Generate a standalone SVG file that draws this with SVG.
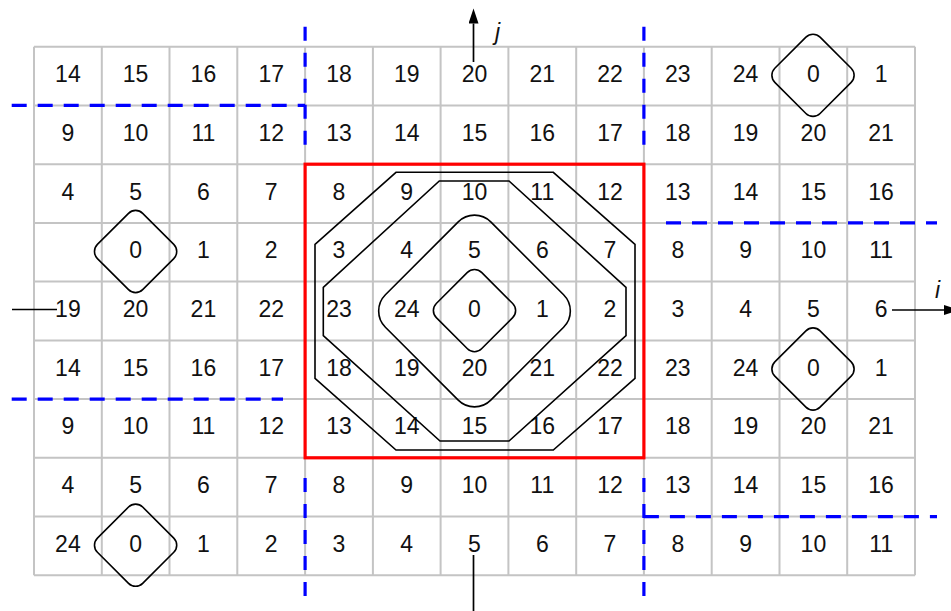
<svg xmlns="http://www.w3.org/2000/svg" width="951" height="611" viewBox="0 0 951 611">
<defs>
<marker id="arr" markerUnits="userSpaceOnUse" markerWidth="16" markerHeight="10" refX="0" refY="5" orient="auto" viewBox="0 0 16 10">
<path d="M0,0 L15,5 L0,10 z" fill="#000"/>
</marker>
<style>
.g{stroke:#c4c4c4;stroke-width:2;fill:none}
.t{font-family:"Liberation Sans",Arial,sans-serif;font-size:23px;fill:#111;text-anchor:middle}
.ax{font-family:"Liberation Sans",Arial,sans-serif;font-size:23px;font-style:italic;fill:#111}
.s{stroke:#000;stroke-width:1.6;fill:none}
.bd{stroke:#0000ff;stroke-width:3.2;fill:none;stroke-dasharray:15 11}
.bv{stroke:#0000ff;stroke-width:3.2;fill:none;stroke-dasharray:14 12}
.a{stroke:#000;stroke-width:1.7;fill:none}
</style>
</defs>
<rect width="951" height="611" fill="#fff"/>
<g id="grid" class="g">
<path d="M34,46.7V575.3M101.8,46.7V575.3M169.5,46.7V575.3M237.3,46.7V575.3M305.1,46.7V575.3M372.9,46.7V575.3M440.6,46.7V575.3M508.4,46.7V575.3M576.2,46.7V575.3M643.9,46.7V575.3M711.7,46.7V575.3M779.5,46.7V575.3M847.2,46.7V575.3M915,46.7V575.3"/>
<path d="M34,46.7H915M34,105.4H915M34,164.2H915M34,222.9H915M34,281.6H915M34,340.4H915M34,399.1H915M34,457.8H915M34,516.6H915M34,575.3H915"/>
</g>
<g id="labels" class="t">
<text x="67.9" y="82">14</text><text x="135.6" y="82">15</text><text x="203.4" y="82">16</text><text x="271.2" y="82">17</text><text x="339" y="82">18</text><text x="406.7" y="82">19</text><text x="474.5" y="82">20</text><text x="542.3" y="82">21</text><text x="610" y="82">22</text><text x="677.8" y="82">23</text><text x="745.6" y="82">24</text><text x="813.4" y="82">0</text><text x="881.1" y="82">1</text>
<text x="67.9" y="140.8">9</text><text x="135.6" y="140.8">10</text><text x="203.4" y="140.8">11</text><text x="271.2" y="140.8">12</text><text x="339" y="140.8">13</text><text x="406.7" y="140.8">14</text><text x="474.5" y="140.8">15</text><text x="542.3" y="140.8">16</text><text x="610" y="140.8">17</text><text x="677.8" y="140.8">18</text><text x="745.6" y="140.8">19</text><text x="813.4" y="140.8">20</text><text x="881.1" y="140.8">21</text>
<text x="67.9" y="199.5">4</text><text x="135.6" y="199.5">5</text><text x="203.4" y="199.5">6</text><text x="271.2" y="199.5">7</text><text x="339" y="199.5">8</text><text x="406.7" y="199.5">9</text><text x="474.5" y="199.5">10</text><text x="542.3" y="199.5">11</text><text x="610" y="199.5">12</text><text x="677.8" y="199.5">13</text><text x="745.6" y="199.5">14</text><text x="813.4" y="199.5">15</text><text x="881.1" y="199.5">16</text>
<text x="135.6" y="258.2">0</text><text x="203.4" y="258.2">1</text><text x="271.2" y="258.2">2</text><text x="339" y="258.2">3</text><text x="406.7" y="258.2">4</text><text x="474.5" y="258.2">5</text><text x="542.3" y="258.2">6</text><text x="610" y="258.2">7</text><text x="677.8" y="258.2">8</text><text x="745.6" y="258.2">9</text><text x="813.4" y="258.2">10</text><text x="881.1" y="258.2">11</text>
<text x="67.9" y="317">19</text><text x="135.6" y="317">20</text><text x="203.4" y="317">21</text><text x="271.2" y="317">22</text><text x="339" y="317">23</text><text x="406.7" y="317">24</text><text x="474.5" y="317">0</text><text x="542.3" y="317">1</text><text x="610" y="317">2</text><text x="677.8" y="317">3</text><text x="745.6" y="317">4</text><text x="813.4" y="317">5</text><text x="881.1" y="317">6</text>
<text x="67.9" y="375.7">14</text><text x="135.6" y="375.7">15</text><text x="203.4" y="375.7">16</text><text x="271.2" y="375.7">17</text><text x="339" y="375.7">18</text><text x="406.7" y="375.7">19</text><text x="474.5" y="375.7">20</text><text x="542.3" y="375.7">21</text><text x="610" y="375.7">22</text><text x="677.8" y="375.7">23</text><text x="745.6" y="375.7">24</text><text x="813.4" y="375.7">0</text><text x="881.1" y="375.7">1</text>
<text x="67.9" y="434.4">9</text><text x="135.6" y="434.4">10</text><text x="203.4" y="434.4">11</text><text x="271.2" y="434.4">12</text><text x="339" y="434.4">13</text><text x="406.7" y="434.4">14</text><text x="474.5" y="434.4">15</text><text x="542.3" y="434.4">16</text><text x="610" y="434.4">17</text><text x="677.8" y="434.4">18</text><text x="745.6" y="434.4">19</text><text x="813.4" y="434.4">20</text><text x="881.1" y="434.4">21</text>
<text x="67.9" y="493.2">4</text><text x="135.6" y="493.2">5</text><text x="203.4" y="493.2">6</text><text x="271.2" y="493.2">7</text><text x="339" y="493.2">8</text><text x="406.7" y="493.2">9</text><text x="474.5" y="493.2">10</text><text x="542.3" y="493.2">11</text><text x="610" y="493.2">12</text><text x="677.8" y="493.2">13</text><text x="745.6" y="493.2">14</text><text x="813.4" y="493.2">15</text><text x="881.1" y="493.2">16</text>
<text x="67.9" y="551.9">24</text><text x="135.6" y="551.9">0</text><text x="203.4" y="551.9">1</text><text x="271.2" y="551.9">2</text><text x="339" y="551.9">3</text><text x="406.7" y="551.9">4</text><text x="474.5" y="551.9">5</text><text x="542.3" y="551.9">6</text><text x="610" y="551.9">7</text><text x="677.8" y="551.9">8</text><text x="745.6" y="551.9">9</text><text x="813.4" y="551.9">10</text><text x="881.1" y="551.9">11</text>
</g>
<g id="octagon-outer"><polygon class="s" points="396,172.3 553.3,172.3 635,244.3 635,378.3 553.3,450 396,450 315,378.3 315,244.3"/></g>
<g id="octagon-inner"><polygon class="s" points="439.3,181 509,181 626,287.3 626,335.7 509,441 440,441 323.3,335.7 323.3,287.3"/></g>
<g id="diamond-large"><rect class="s" x="-74.5" y="-74.5" width="149" height="149" rx="23" transform="translate(474.5,311) rotate(45)"/></g>
<g id="diamond-center"><rect class="s" x="-32" y="-32" width="64" height="64" rx="10" transform="translate(474.5,310.6) rotate(45)"/></g>
<g id="diamond-r0c11"><rect class="s" x="-32" y="-32" width="64" height="64" rx="10" transform="translate(813,75.3) rotate(45)"/></g>
<g id="diamond-r3c1"><rect class="s" x="-32" y="-32" width="64" height="64" rx="10" transform="translate(135.6,251.5) rotate(45)"/></g>
<g id="diamond-r5c11"><rect class="s" x="-32" y="-32" width="64" height="64" rx="10" transform="translate(813,369) rotate(45)"/></g>
<g id="diamond-r8c1"><rect class="s" x="-32" y="-32" width="64" height="64" rx="10" transform="translate(135.6,545.2) rotate(45)"/></g>
<g id="window"><rect x="305.1" y="164.2" width="338.8" height="293.6" fill="none" stroke="#ff0000" stroke-width="3.2"/></g>
<g id="boundaries">
<path class="bv" d="M305.1,26.7V146M643.9,26.7V146M305.1,478V596M643.9,478V596"/>
<path class="bd" d="M11.7,105.4H305.1M11.7,399.1H283M666,222.9H937M643.9,516.6H937"/>
</g>
<g id="connectors">
<path class="a" d="M473.5,62V23.5" marker-end="url(#arr)"/>
<path class="a" d="M473.5,555V611"/>
<path class="a" d="M12,309.5H57"/>
<path class="a" d="M892,310H944" marker-end="url(#arr)"/>
<text class="ax" x="495" y="40">j</text>
<text class="ax" x="935" y="298">i</text>
</g>
</svg>
